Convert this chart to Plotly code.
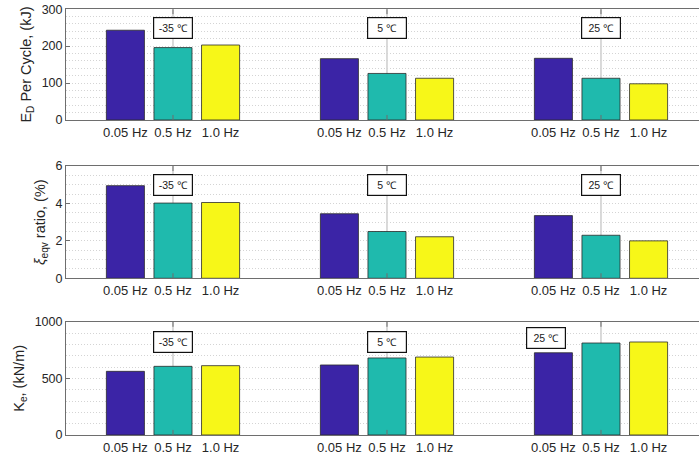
import plotly.graph_objects as go

# Test conditions
groups = [1, 2, 3]
temperatures = ["-35 ℃", "5 ℃", "25 ℃"]
frequencies = ["0.05 Hz", "0.5 Hz", "1.0 Hz"]

# Energy dissipated per cycle (kJ), one list per frequency over the three temperatures
ed_005 = [243, 166, 167]
ed_05 = [196, 126, 113]
ed_10 = [203, 113, 98]

# Equivalent damping ratio (%)
xi_005 = [4.95, 3.45, 3.35]
xi_05 = [4.02, 2.50, 2.30]
xi_10 = [4.05, 2.22, 2.00]

# Effective stiffness (kN/m)
ke_005 = [562, 618, 726]
ke_05 = [606, 680, 812]
ke_10 = [612, 688, 821]

colors = ["#3b24a6", "#1fbaad", "#f7f718"]

panels = [
    dict(series=[ed_005, ed_05, ed_10], yrange=[0, 300], dtick=100, minor=20,
         title="E<sub>D</sub> Per Cycle, (kJ)", domain=[0.7386, 0.980],
         label_y=[250, 250, 250], label_dx=[0, 0, 0]),
    dict(series=[xi_005, xi_05, xi_10], yrange=[0, 6], dtick=2, minor=0.5,
         title="<i>ξ</i><sub>eqv</sub> ratio, (%)", domain=[0.3937, 0.6383],
         label_y=[5.0, 5.0, 5.0], label_dx=[0, 0, 0]),
    dict(series=[ke_005, ke_05, ke_10], yrange=[0, 1000], dtick=500, minor=100,
         title="K<sub>e</sub>, (kN/m)", domain=[0.0523, 0.2991],
         label_y=[821, 821, 856], label_dx=[0, 0, -0.257]),
]

bargap = 0.333
bargroupgap = 0.2
slot = (1 - bargap) / len(frequencies)
offsets = [(i - (len(frequencies) - 1) / 2) * slot for i in range(len(frequencies))]
tick_pos = [g + o for g in groups for o in offsets]
tick_txt = [f for _ in groups for f in frequencies]

xrange_ = [0.5, 3.458]
axis_color = "#6e6e6e"
grid_color = "#d4d4d4"
grid_dash = "1px,2px"
font_family = "Liberation Sans, Arial, sans-serif"

fig = go.Figure()
layout = dict(
    width=699, height=459,
    margin=dict(l=0, r=0, t=0, b=0, autoexpand=False),
    paper_bgcolor="white", plot_bgcolor="white",
    barmode="group", bargap=bargap, bargroupgap=bargroupgap,
    showlegend=False,
    font=dict(family=font_family, color="#262626"),
    annotations=[], shapes=[],
)

for k, p in enumerate(panels, start=1):
    xa = "x" if k == 1 else f"x{k}"
    ya = "y" if k == 1 else f"y{k}"
    for s, freq, c in zip(p["series"], frequencies, colors):
        fig.add_trace(go.Bar(
            x=groups, y=s, name=freq, xaxis=xa, yaxis=ya,
            marker=dict(color=c, line=dict(color="#2b2b2b", width=0.8)),
            offsetgroup=freq,
        ))
    layout[f"xaxis{'' if k == 1 else k}"] = dict(
        domain=[0.0944, 1.0], range=xrange_, anchor=ya, automargin=False,
        showline=True, mirror=True, linecolor=axis_color, linewidth=1,
        tickmode="array", tickvals=tick_pos, ticktext=tick_txt, ticks="",
        tickfont=dict(size=13, color="#262626", family=font_family),
        showgrid=False, zeroline=False,
    )
    layout[f"yaxis{'' if k == 1 else k}"] = dict(
        domain=p["domain"], range=p["yrange"], anchor=xa, automargin=False,
        showline=True, mirror=False, linecolor=axis_color, linewidth=1,
        ticks="inside", ticklen=4, tickcolor=axis_color, dtick=p["dtick"],
        tickfont=dict(size=12.5, color="#262626", family=font_family),
        showgrid=True, gridcolor=grid_color, griddash=grid_dash, gridwidth=1,
        minor=dict(dtick=p["minor"], showgrid=True, gridcolor=grid_color,
                   griddash=grid_dash, gridwidth=1),
        zeroline=False,
        title=dict(text=p["title"], font=dict(size=14.5, color="#262626", family=font_family),
                   standoff=6),
    )
    # vertical grid line and tick marks at each temperature group centre
    for g in groups:
        layout["shapes"].append(dict(
            type="line", xref=xa, yref=f"{ya} domain", x0=g, x1=g, y0=0, y1=1,
            line=dict(color="#b5b5b5", width=1), layer="below"))
        for y0, y1 in ((0, 0.045), (0.955, 1)):
            layout["shapes"].append(dict(
                type="line", xref=xa, yref=f"{ya} domain", x0=g, x1=g, y0=y0, y1=y1,
                line=dict(color=axis_color, width=1), layer="above"))
    # temperature tags
    for g, t, ly, dx in zip(groups, temperatures, p["label_y"], p["label_dx"]):
        layout["annotations"].append(dict(
            x=g + dx, y=ly, xref=xa, yref=ya, text=t, showarrow=False,
            font=dict(size=10.5, color="#1a1a1a", family=font_family),
            bgcolor="white", bordercolor="#111111", borderwidth=1.2,
            borderpad=2, width=34, height=16, align="center", valign="middle",
        ))

fig.update_layout(**layout)
fig.write_html("out.html")
